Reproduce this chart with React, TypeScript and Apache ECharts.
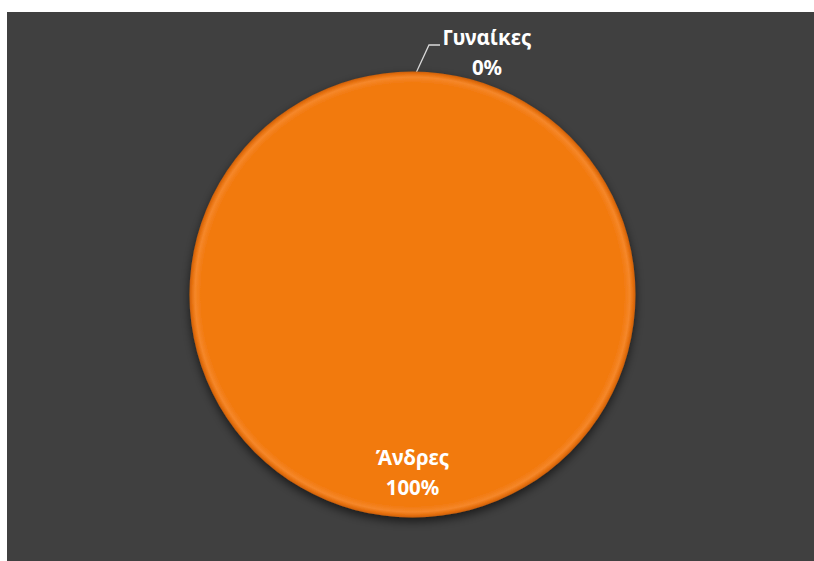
import React, { useEffect, useRef } from "react";
import * as echarts from "echarts";

const categories = ["Άνδρες", "Γυναίκες"];
const values = [100, 0];
const sliceColors = ["#F27A10", "#4F81BD"];

export default function App() {
  const ref = useRef<HTMLDivElement>(null);
  useEffect(() => {
    if (!ref.current) return;
    const chart = echarts.init(ref.current, undefined, { renderer: "svg" });
    const data = categories.map((name, i) => ({
      name,
      value: values[i],
      label: { position: i === 0 ? "inside" : "outside" },
      itemStyle: {
        color:
          i === 0
            ? {
                type: "radial",
                x: 0.5,
                y: 0.5,
                r: 0.5,
                colorStops: [
                  { offset: 0, color: "#F27A10" },
                  { offset: 0.95, color: "#F27A10" },
                  { offset: 0.975, color: "#F5872A" },
                  { offset: 0.99, color: "#E56F0C" },
                  { offset: 1, color: "#C95E08" },
                ],
              }
            : sliceColors[i],
      },
    }));
    chart.setOption({
      animation: false,
      backgroundColor: "#ffffff",
      graphic: [
        {
          type: "rect",
          z: -10,
          silent: true,
          shape: { x: 7, y: 12, width: 807, height: 549 },
          style: { fill: "#404040" },
        },
      ],
      series: [
        {
          type: "pie",
          center: [412.5, 294.5],
          radius: [0, 223],
          startAngle: 90,
          clockwise: true,
          avoidLabelOverlap: false,
          minShowLabelAngle: 0,
          itemStyle: {
            shadowBlur: 10,
            shadowOffsetY: 4,
            shadowColor: "rgba(0,0,0,0.6)",
            borderWidth: 0,
          },
          label: {
            show: true,
            formatter: "{b}\n{d}%",
            color: "#ffffff",
            fontFamily: "'Noto Sans', 'Open Sans', sans-serif",
            fontWeight: "bold",
            fontSize: 20.5,
            lineHeight: 30,
            align: "center",
          },
          labelLine: {
            show: true,
            lineStyle: { color: "#D9D9D9", width: 1.3 },
          },
          emphasis: { disabled: true },
          labelLayout: (params: any) => {
            if (params.dataIndex === 0) {
              return { dy: 63 };
            }
            return {
              x: 487,
              y: 52,
              align: "center",
              verticalAlign: "middle",
              labelLinePoints: [
                [416, 73],
                [429, 45],
                [440, 45],
              ],
            };
          },
          data,
        },
      ],
    });
    return () => chart.dispose();
  }, []);
  return (
    <div
      ref={ref}
      style={{ position: "fixed", left: 0, top: 0, width: 814, height: 561 }}
    />
  );
}
